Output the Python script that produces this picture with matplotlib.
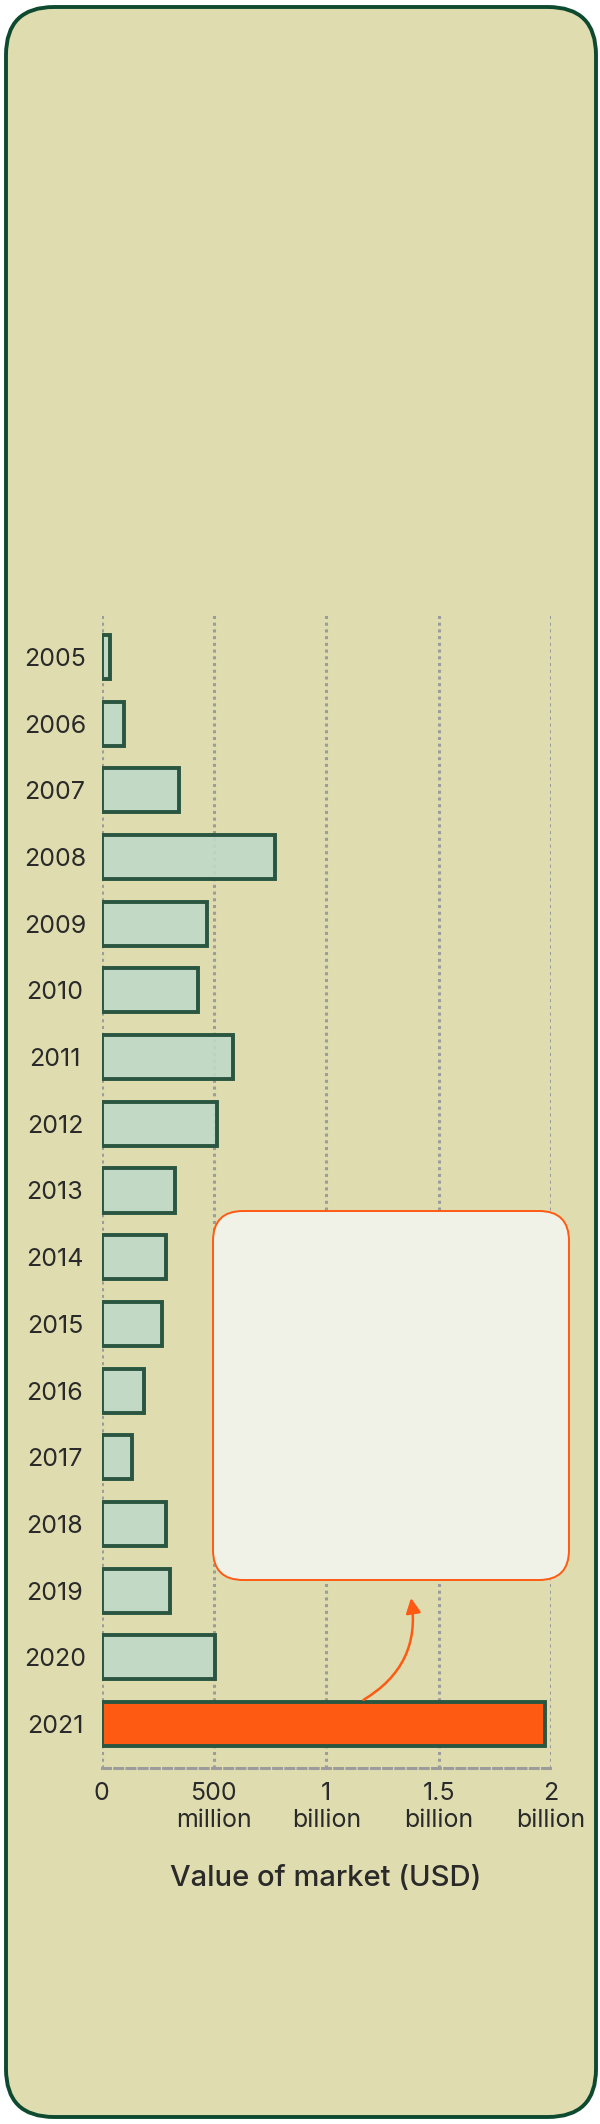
import matplotlib.pyplot as plt
from matplotlib.patches import FancyBboxPatch
import numpy as np

# market value per year, in millions of USD
years = ['2005', '2006', '2007', '2008', '2009', '2010', '2011', '2012', '2013',
         '2014', '2015', '2016', '2017', '2018', '2019', '2020', '2021']
values_musd = [38, 100, 345, 772, 470, 430, 585, 515, 325,
               285, 268, 188, 135, 285, 305, 503, 1972]
highlight_year = '2021'

tick_values = [0, 0.5e9, 1e9, 1.5e9, 2e9]
tick_labels = ['0', '500\nmillion', '1\nbillion', '1.5\nbillion', '2\nbillion']

W, H = 600, 2124
text_col = '#2a2a2a'
plt.rcParams['font.family'] = ['Inter', 'DejaVu Sans']

fig = plt.figure(figsize=(W / 100, H / 100), dpi=100)
fig.patch.set_facecolor('white')

# background card
bg = fig.add_axes([0, 0, 1, 1], zorder=0)
bg.set_xlim(0, W)
bg.set_ylim(H, 0)
bg.axis('off')
bg.add_patch(FancyBboxPatch((6, 7), 590, 2110, boxstyle='round,pad=0,rounding_size=48',
                            fc='#DFDDAF', ec='#0E4A30', lw=2.8))

# main chart
ax = fig.add_axes([101.5 / W, 1 - 1768 / H, 449.5 / W, (1768 - 615) / H], zorder=1)
ax.patch.set_alpha(0)

y = np.arange(len(years))
vals = np.array(values_musd) * 1e6
colors = [(1.0, 0.353, 0.071, 1.0) if yr == highlight_year else (0.75, 0.85, 0.79, 0.9)
          for yr in years]
ax.barh(y, vals, height=0.66, color=colors, edgecolor='#2A5540', linewidth=2.8, zorder=2)

ax.set_xlim(0, 2e9)
ax.set_ylim(len(years) - 0.34, -0.63)

for xv in tick_values:
    ax.axvline(xv, color='#9c9c9c', lw=2.2, ls=(0, (1.0, 1.2)), zorder=1)

for s in ['top', 'right', 'left']:
    ax.spines[s].set_visible(False)
ax.spines['bottom'].set_color('#9c9c9c')
ax.spines['bottom'].set_linewidth(2.2)
ax.spines['bottom'].set_linestyle((0, (2.6, 1.4)))

ax.set_xticks(tick_values)
ax.set_xticklabels(tick_labels, fontsize=18, color=text_col, linespacing=1.25)
ax.set_yticks(y)
ax.set_yticklabels(years, fontsize=18, color=text_col)
ax.tick_params(axis='x', length=0, pad=10)
ax.tick_params(axis='y', length=0, pad=33.5)
for lab in ax.get_yticklabels():
    lab.set_horizontalalignment('center')

# curved arrow from the 2021 bar up to the note box
ax.annotate('', xy=(1.375e9, 14.07), xytext=(1.155e9, 15.66),
            arrowprops=dict(arrowstyle='-|>,head_length=0.9,head_width=0.45',
                            color='#FF5A14', lw=1.8,
                            connectionstyle='arc3,rad=0.35'), zorder=3)

fig.text(326 / W, 1 - 1879 / H, 'Value of market (USD)', ha='center', va='center',
         fontsize=21, fontweight='medium', color=text_col)

# empty note box
ov = fig.add_axes([0, 0, 1, 1], zorder=2)
ov.set_xlim(0, W)
ov.set_ylim(H, 0)
ov.axis('off')
ov.add_patch(FancyBboxPatch((213, 1211), 356, 369, boxstyle='round,pad=0,rounding_size=30',
                            fc='#F0F1E7', ec='#FF5A14', lw=1.4))

fig.savefig('out.png', dpi=100)
